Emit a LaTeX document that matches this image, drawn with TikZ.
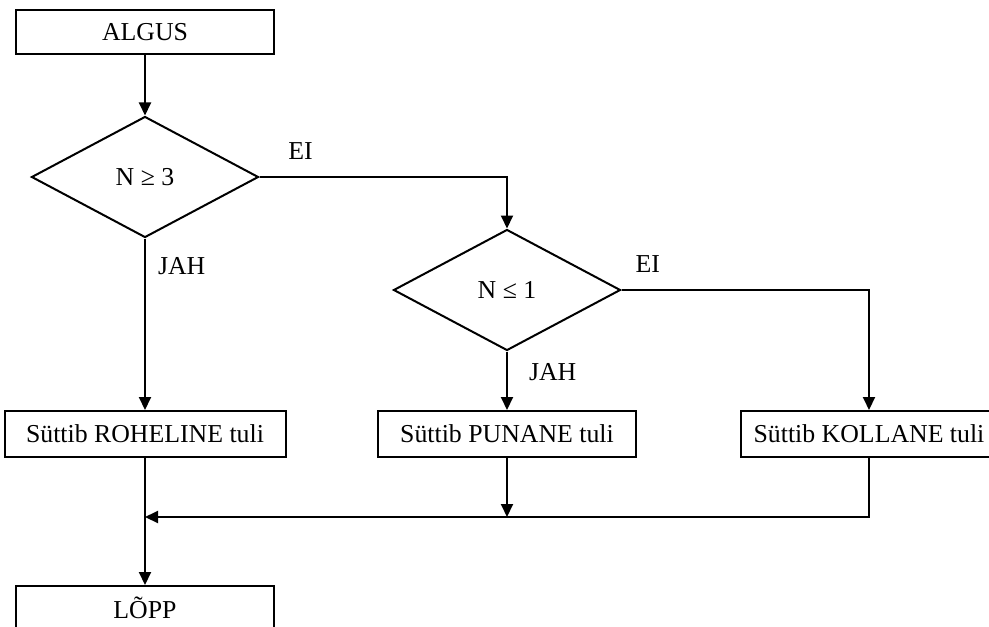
\documentclass[tikz,border=0pt]{standalone}
\usepackage{fontspec}
\setmainfont{Liberation Serif}
\usetikzlibrary{shapes.geometric, positioning, arrows.meta}

\begin{document}
\begin{tikzpicture}[on grid, line width=1bp, font=\fontsize{12.9bp}{15bp}\selectfont]

\tikzstyle{startstop} = [rectangle, minimum width=129bp, minimum height=22bp, text centered, draw=black]
\tikzstyle{process} = [rectangle, minimum height=23bp, text centered, draw=black]
\tikzstyle{decision} = [diamond, minimum width=113.5bp, minimum height=60.5bp, inner sep=0pt, text centered, draw=black]
\tikzstyle{arrow} = [->,>={Triangle[length=6.5bp,width=6bp]}]
\tikzstyle{lbl} = [inner sep=0pt]

\useasboundingbox (0,0) rectangle (494.5bp,-313.5bp);

\node (algus) [startstop] at (72.5bp,-16bp) {ALGUS};
\node (dec1) [decision, below=72.5bp of algus] {N ≥ 3};
\node (dec2) [decision, below right=56.5bp and 181bp of dec1] {N ≤ 1};
\node (pro1) [process, minimum width=140.5bp, below=128.5bp of dec1] {Süttib ROHELINE tuli};
\node (pro2) [process, minimum width=129bp, below=72bp of dec2] {Süttib PUNANE tuli};
\node (pro3) [process, minimum width=128bp, right=181bp of pro2] {Süttib KOLLANE tuli};
\node (lopp) [startstop, below=87bp of pro1] {LÕPP};
\coordinate [below=41.5bp of pro1] (join);

\draw [arrow] (algus) -- (dec1);
\draw [arrow] (dec1) -- node[lbl, pos=0.16, right=6bp] {JAH} (pro1);
\draw [arrow] (dec1) -| node[lbl, pos=0.083, above=8.5bp] {EI} (dec2);
\draw [arrow] (dec2) -- node[lbl, pos=0.345, right=10.5bp] {JAH} (pro2);
\draw [arrow] (dec2) -| node[lbl, pos=0.053, above=8.5bp] {EI} (pro3);
\draw [arrow] (pro2) -- (pro2 |- join);
\draw [arrow] (pro3) |- (join);
\draw [arrow] (pro1) -- (lopp);
\end{tikzpicture}
\end{document}
